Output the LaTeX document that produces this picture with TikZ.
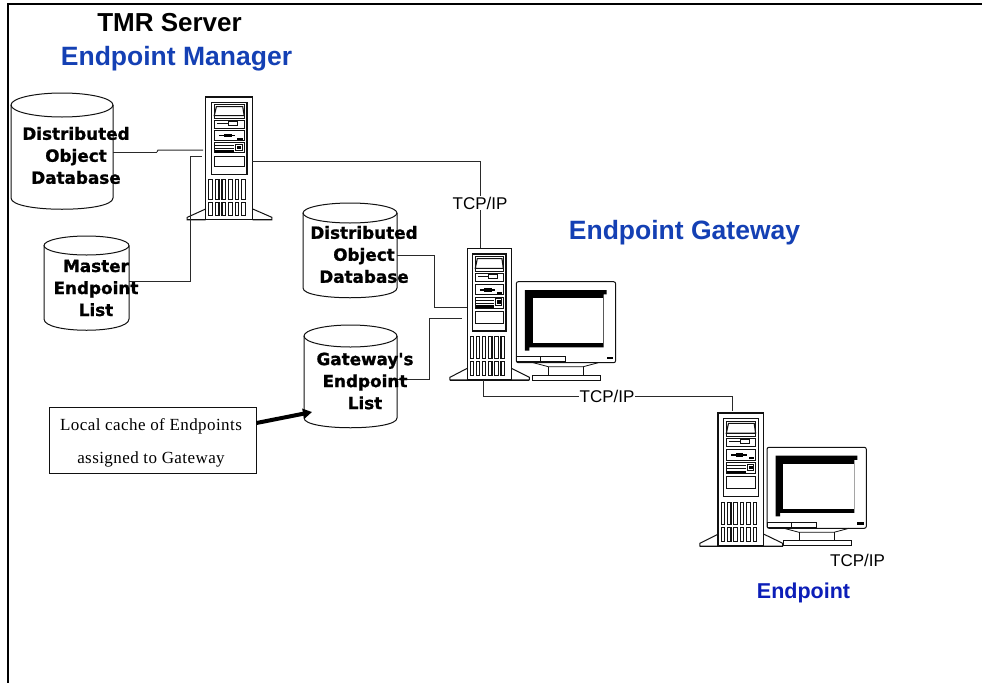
\documentclass[tikz,border=0pt]{standalone}
\usepackage{fontspec}
\setmainfont{Liberation Sans}
\newfontfamily\serifface[LetterSpace=2.5]{Liberation Serif}
\newfontfamily\heavyface[UprightFont=* Bold,FakeBold=1.1]{DejaVu Sans}
\usetikzlibrary{arrows.meta}
\definecolor{inkc}{HTML}{111111}
\definecolor{wirec}{HTML}{2A2A2A}
\definecolor{bluea}{HTML}{1440B4}
\definecolor{blueb}{HTML}{0C1EB8}
\tikzset{
  x=1pt,y=-1pt,
  hw/.style={draw=inkc,line width=1pt,fill=white},
  blk/.style={fill=black,draw=none},
  thinl/.style={draw=inkc,line width=0.8pt},
  cylshape/.style={draw=inkc,line width=1pt},
  anchorbox/.style={draw=none,inner sep=0pt,outer sep=0pt},
  wire/.style={draw=wirec,line width=1pt},
  cyltext/.style={font=\heavyface\fontsize{16.8}{22}\selectfont,align=center,inner sep=0pt,text=black},
  tcplabel/.style={font=\fontsize{17}{20}\selectfont,text=black,inner sep=1pt},
  heading/.style={font=\bfseries\fontsize{26.5}{30}\selectfont,inner sep=0pt},
  towerpc/.pic={
    \begin{scope}[shift={(-82,-25)}]
      % feet
      \draw[hw] (82,385) -- (30,412) -- (30,420) -- (82,420);
      \draw[hw] (214,385) -- (268,412) -- (268,420) -- (214,420);
      \draw[thinl] (30,420) -- (268,420);
      \draw[hw,line width=1.1pt] (82,25) rectangle (214,420);
      \draw[hw,line width=1.1pt] (98,42) rectangle (198,273);
      % cd tray
      \draw[hw] (106,50) rectangle (190,95);
      \draw[thinl,line width=1.1pt] (112,56) -- (186,56) -- (190,85) -- (106,85) -- cycle;
      % floppy
      \draw[hw] (106,100) rectangle (190,125);
      \draw[thinl] (115,110) -- (147,110);
      \draw[hw] (147,103) rectangle (172,117);
      % tape
      \draw[hw] (106,133) rectangle (190,165);
      \draw[line width=1.2pt,draw=black] (120,150) -- (165,150);
      \fill[blk] (133,145) rectangle (155,155);
      \fill[blk] (170,157) rectangle (186,162);
      % panel
      \draw[hw] (106,172) rectangle (190,205);
      \draw[thinl] (108,181) -- (162,181);
      \draw[thinl] (108,190) -- (162,190);
      \fill[blk] (108,196) rectangle (162,204);
      \draw[hw] (167,177) rectangle (185,196);
      \fill[blk] (171,181) rectangle (182,191);
      \draw[hw] (106,215) rectangle (190,250);
      % vents
      \foreach \k in {0,...,5}{
        \draw[hw,line width=1.1pt] ({91+\k*18.4},290) rectangle ({101+\k*18.4},356);
        \draw[hw,line width=1.1pt] ({91+\k*18.4},364) rectangle ({101+\k*18.4},407);
      }
    \end{scope}
  },
  crtscreen/.pic={
    \begin{scope}[shift={(-229,-125)}]
      \draw[hw,rounded corners=2pt,line width=1pt] (229,125) rectangle (527,368);
      \fill[blk] (255,150) -- (500,150) -- (500,163) -- (491,163) -- (491,322) -- (268,322) -- (268,332) -- (255,332) -- cycle;
      \fill[white] (278,175) rectangle (489,310);
      \draw[hw] (229,350) rectangle (303,365);
      \draw[hw] (303,350) rectangle (378,365);
      \fill[blk] (500,350) rectangle (520,358);
      \draw[thinl] (280,368) -- (325,380) -- (430,380) -- (475,368);
      \draw[thinl] (325,380) -- (325,406);
      \draw[thinl] (430,380) -- (430,406);
      \draw[hw] (277,406) rectangle (482,420);
    \end{scope}
  }
}
\begin{document}
\begin{tikzpicture}
\useasboundingbox (0,0) rectangle (982,683);
\fill[white] (0,0) rectangle (982,683);
% frame
\draw[black,line width=2pt] (982,4) -- (7.5,4) -- (7.5,683);

% anchors over the hardware
\node[anchorbox,minimum width=102pt,minimum height=116pt] (dbone) at (62,151) {};
\node[anchorbox,minimum width=85pt,minimum height=94pt] (mel) at (86.5,283) {};
\node[anchorbox,minimum width=94pt,minimum height=95pt] (dbtwo) at (350,250.5) {};
\node[anchorbox,minimum width=93pt,minimum height=103pt] (gel) at (350.5,376.5) {};
\node[anchorbox,minimum width=52pt,minimum height=123pt] (srvone) at (229.4,158.5) {};
\node[anchorbox,minimum width=44pt,minimum height=132pt] (srvtwo) at (489.3,314.2) {};
\node[anchorbox,minimum width=46pt,minimum height=133pt] (srvthree) at (741,479.5) {};

% cylinders
\draw[cylshape] (62,105) ellipse [x radius=51,y radius=12];
\draw[cylshape] (11,105) -- (11,198) .. controls (11,213) and (113,213) .. (113,198) -- (113,105);
\draw[cylshape] (86.5,245.5) ellipse [x radius=42.5,y radius=9.5];
\draw[cylshape] (44,245.5) -- (44,319) .. controls (44,334) and (129,334) .. (129,319) -- (129,245.5);
\draw[cylshape] (350,213) ellipse [x radius=47,y radius=10];
\draw[cylshape] (303,213) -- (303,288) .. controls (303,301) and (397,301) .. (397,288) -- (397,213);
\draw[cylshape] (350.5,336) ellipse [x radius=46.5,y radius=11];
\draw[cylshape] (304,336) -- (304,418) .. controls (304,431) and (397,431) .. (397,418) -- (397,336);

% computers
\pic[xscale=0.356,yscale=0.311] at (205.7,97) {towerpc};
\pic[xscale=0.3333,yscale=0.3333] at (467.3,248.3) {towerpc};
\pic[xscale=0.3333,yscale=0.3333] at (516.3,281.7) {crtscreen};
\pic[xscale=0.348,yscale=0.3367] at (718,413) {towerpc};
\pic[xscale=0.3333,yscale=0.3333] at (767,447.3) {crtscreen};

% routing points
\coordinate (aone) at (157,152);
\coordinate (atwo) at (158,150);
\coordinate (athree) at (203,150);
\coordinate (bone) at (190,281);
\coordinate (btwo) at (190,156);
\coordinate (bthree) at (202,156);
\coordinate (cone) at (252,161);
\coordinate (ctwo) at (480.5,161);
\coordinate (cthree) at (480.5,248);
\coordinate (done) at (397,255);
\coordinate (dtwo) at (434,255);
\coordinate (dthree) at (434,307);
\coordinate (dfour) at (467,307);
\coordinate (eone) at (397,379);
\coordinate (etwo) at (429,379);
\coordinate (ethree) at (429,318);
\coordinate (efour) at (462,318);
\coordinate (fone) at (483,380);
\coordinate (ftwo) at (483,396);
\coordinate (fthree) at (732,396);
\coordinate (ffour) at (732,411);
\coordinate (gtip) at (312,412);

% connectors
\draw[wire] (aone) -- (atwo) -- (athree);
\draw[wire] (dbone.east |- aone) -- (aone);
\draw[wire] (mel.east |- bone) -- (bone) -- (btwo) -- (bthree);
\draw[wire] (cone) -- (ctwo) -- (cthree);
\draw[wire] (done) -- (dtwo) -- (dthree) -- (dfour);
\draw[wire] (eone) -- (etwo) -- (ethree) -- (efour);
\draw[wire] (fone) -- (ftwo) -- (fthree) -- (ffour);

% texts in cylinders
\node[cyltext] (tdbone) at (76,155.5) {Distributed\\Object\\Database};
\node[cyltext] (tmel) at (96,288) {Master\\Endpoint\\List};
\node[cyltext] (tdbtwo) at (364,254.5) {Distributed\\Object\\Database};
\node[cyltext] (tgel) at (365,381) {Gateway's\\Endpoint\\List};

% labels
\node[tcplabel,fill=white] (tcpa) at (480,203) {TCP/IP};
\node[tcplabel,fill=white] (tcpb) at (607,396) {TCP/IP};
\node[tcplabel] (tcpc) at (857.5,560) {TCP/IP};
\node[heading,font=\bfseries\fontsize{26}{30}\selectfont,text=black] (ttmr) at (169.5,23) {TMR Server};
\node[heading,text=bluea] (tem) at (176.5,59) {Endpoint Manager};
\node[heading,text=bluea] (teg) at (684.5,233) {Endpoint Gateway};
\node[heading,font=\bfseries\fontsize{21.5}{26}\selectfont,text=blueb] (tep) at (803.5,593) {Endpoint};

% note
\node[draw=inkc,line width=0.9pt,fill=white,minimum width=207pt,minimum height=66pt,inner sep=0pt] (note) at (152.5,440) {};
\node[inner sep=0pt,align=center,font=\serifface\fontsize{17}{33}\selectfont] (notetext) at (151,443) {Local cache of Endpoints\\assigned to Gateway};
\draw[black,line width=4pt,-{Triangle[length=9pt,width=10pt]}] ([yshift=17pt]note.east) -- (gtip);
\end{tikzpicture}
\end{document}
